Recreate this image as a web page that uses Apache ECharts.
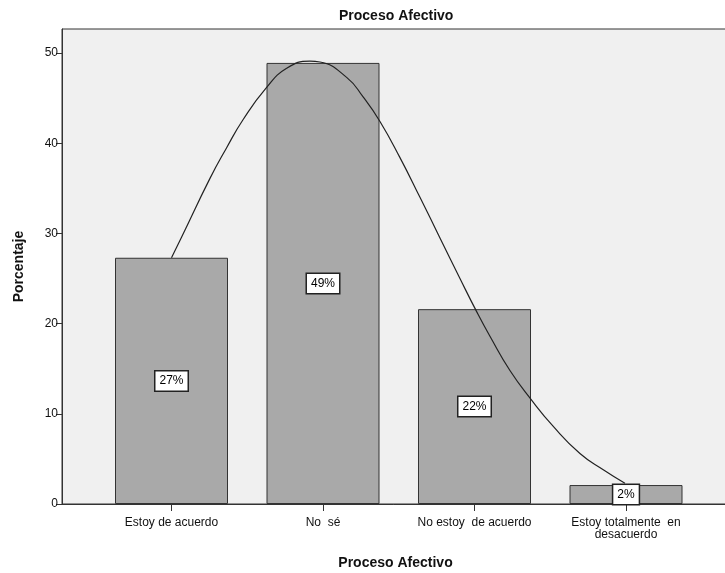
<!DOCTYPE html>
<html>
<head>
<meta charset="utf-8">
<script src="https://cdn.jsdelivr.net/npm/echarts@6/dist/echarts.min.js"></script>
<style>
html,body{margin:0;padding:0;background:#fff;}
#chart{width:725px;height:573px;}
</style>
</head>
<body>
<div id="chart"></div>
<script>
// ---- data ----
var categories = ['Estoy de acuerdo', 'No  sé', 'No estoy  de acuerdo', 'Estoy totalmente  en\ndesacuerdo'];
var percentValues = [27.3, 48.9, 21.6, 2.1];
var yTickValues = [0, 10, 20, 30, 40, 50];
// normal curve points (x = category position, 0 = first category)
var curveX = [0.0, 0.067, 0.254, 0.364, 0.472, 0.624, 0.760, 0.914, 0.980, 1.156, 1.266, 1.376, 1.508, 1.640, 1.772, 1.904, 2.015, 2.102, 2.234, 2.373, 2.520, 2.696, 2.850, 2.993];
var curveY = [27.3, 29.6, 36.1, 39.5, 42.6, 46.1, 48.3, 49.1, 49.0, 47.3, 45.1, 42.4, 38.4, 34.0, 29.5, 25.0, 21.3, 18.6, 14.8, 11.6, 8.6, 5.6, 3.8, 2.3];

var curveData = curveX.map(function (x, i) { return [x, curveY[i]]; });

var FONT = "'Liberation Sans', Arial, sans-serif";
var YMAX = 52.66;

var chart = echarts.init(document.getElementById('chart'), null, {renderer: 'canvas'});
chart.setOption({
  animation: false,
  backgroundColor: '#ffffff',
  title: {
    text: 'Proceso Afectivo',
    left: 334,
    top: 4,
    textStyle: {fontFamily: FONT, fontSize: 14, fontWeight: 'bold', color: '#111'}
  },
  grid: [
    {left: 62, right: -4, top: 29, bottom: 69, outerBoundsMode: 'none', containLabel: false,
     show: true, backgroundColor: '#f0f0f0', borderColor: '#333', borderWidth: 1},
    {left: 95.75, right: 23.25, top: 29, bottom: 69, outerBoundsMode: 'none', containLabel: false}
  ],
  xAxis: [
    {
      gridIndex: 0, type: 'value', min: 0, max: 1,
      axisLine: {show: true, lineStyle: {color: '#333', width: 1}},
      axisTick: {show: false}, axisLabel: {show: false}, splitLine: {show: false},
      name: 'Proceso Afectivo', nameLocation: 'middle', nameGap: 52,
      nameTextStyle: {fontFamily: FONT, fontSize: 14, fontWeight: 'bold', color: '#111'}
    },
    {
      gridIndex: 1, type: 'category', data: categories,
      axisLine: {show: false},
      axisTick: {show: true, alignWithLabel: true, length: 7, lineStyle: {color: '#333', width: 1}},
      axisLabel: {fontFamily: FONT, fontSize: 12, color: '#111', margin: 13, lineHeight: 12, interval: 0}
    },
    {
      gridIndex: 1, type: 'value', min: -0.5, max: 3.5, show: false
    }
  ],
  yAxis: [
    {
      gridIndex: 0, type: 'value', min: 0, max: YMAX, interval: 10,
      axisLine: {show: true, lineStyle: {color: '#333', width: 1}},
      axisTick: {show: true, length: 6, customValues: yTickValues, lineStyle: {color: '#333'}},
      axisLabel: {fontFamily: FONT, fontSize: 12, color: '#111', margin: 4, customValues: yTickValues},
      splitLine: {show: false},
      name: 'Porcentaje', nameLocation: 'middle', nameGap: 36,
      nameTextStyle: {fontFamily: FONT, fontSize: 14, fontWeight: 'bold', color: '#111'}
    },
    {
      gridIndex: 1, type: 'value', min: 0, max: YMAX, show: false
    }
  ],
  series: [
    {
      type: 'bar', xAxisIndex: 1, yAxisIndex: 1, data: percentValues,
      barWidth: 113,
      itemStyle: {color: '#a9a9a9', borderColor: '#333', borderWidth: 1},
      label: {
        show: true, position: 'inside',
        formatter: function (p) { return Math.round(p.value) + '%'; },
        fontFamily: FONT, fontSize: 12, color: '#000',
        backgroundColor: '#fff', borderColor: '#222', borderWidth: 1.5,
        padding: [4, 4, 3, 4]
      },
      z: 2
    },
    {
      type: 'line', xAxisIndex: 2, yAxisIndex: 1, data: curveData,
      smooth: 0.5, showSymbol: false, symbol: 'none',
      lineStyle: {color: '#222', width: 1.2},
      z: 3
    }
  ]
});
</script>
</body>
</html>
